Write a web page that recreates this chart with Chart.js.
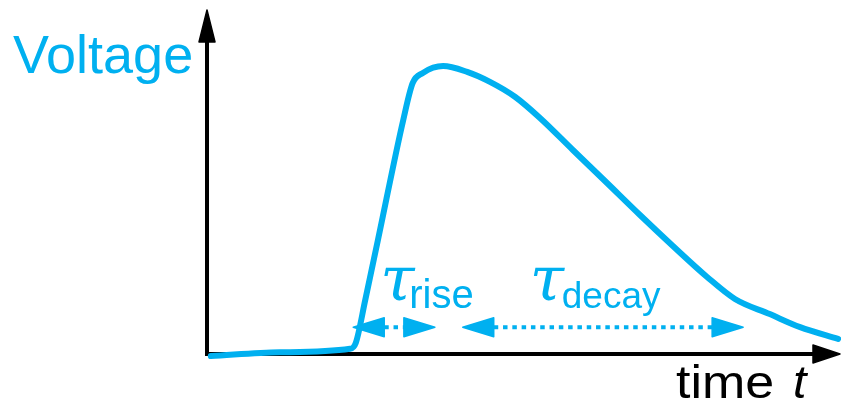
<!DOCTYPE html>
<html>
<head>
<meta charset="utf-8">
<script src="https://cdn.jsdelivr.net/npm/chart.js@4/dist/chart.umd.min.js"></script>
<style>
	html, body { margin: 0; padding: 0; background: #fff; }
	canvas { display: block; }
</style>
</head>
<body>
<canvas id="pulse" width="841" height="409"></canvas>
<script>
// time (arbitrary units, 0..100) and voltage (0..100)
var timeVals = [0.6, 11.5, 22.6, 23.5, 25.0, 27.0, 31.0, 32.5, 34.1, 37.3, 41.1, 44.7, 48.7, 52.6, 57.8, 63.2, 68.4, 73.6, 79.0, 83.4, 88.9, 93.7, 99.7];
var voltageVals = [-0.6, 0.5, 1.5, 3.2, 15.7, 33.1, 68.0, 78.8, 81.7, 83.7, 82.0, 79.1, 74.7, 68.6, 59.3, 49.7, 40.4, 31.4, 22.4, 16.0, 11.6, 7.8, 4.4];

// spans of the two time constants (start, end) and the level of their arrows
var riseSpan = [23.1, 36.0];
var decaySpan = [40.4, 84.7];
var spanLevel = 7.8;

var labels = { y: 'Voltage', x: 'time', xVar: 't', tau: '\u03C4', rise: 'rise', decay: 'decay' };

var BLUE = '#00B0F0';

var points = timeVals.map(function(t, i) {
	return { x: t, y: voltageVals[i] };
});

function arrowHead(ctx, tipX, tipY, dir, len, half) {
	// dir: +1 points right, -1 points left
	ctx.beginPath();
	ctx.moveTo(tipX, tipY);
	ctx.lineTo(tipX - dir * len, tipY - half);
	ctx.lineTo(tipX - dir * len, tipY + half);
	ctx.closePath();
	ctx.fill();
	ctx.stroke();
}

function spanArrow(ctx, x1, x2, y) {
	var len = 31, half = 9.5;
	ctx.save();
	ctx.fillStyle = BLUE;
	ctx.strokeStyle = BLUE;
	ctx.lineJoin = 'round';
	ctx.lineWidth = 1.5;
	arrowHead(ctx, x1, y, -1, len, half);
	arrowHead(ctx, x2, y, 1, len, half);
	ctx.lineWidth = 4;
	ctx.setLineDash([4.5, 4.8]);
	ctx.beginPath();
	ctx.moveTo(x1 + len, y);
	ctx.lineTo(x2 - len, y);
	ctx.stroke();
	ctx.restore();
}

// text stretched sideways a little, like the sketch's lettering
function wideText(ctx, str, x, y, sx) {
	ctx.save();
	ctx.translate(x, y);
	ctx.scale(sx, 1);
	ctx.fillText(str, 0, 0);
	ctx.restore();
}

var sketchAxes = {
	id: 'sketchAxes',
	beforeDatasetsDraw: function(chart) {
		var ctx = chart.ctx;
		var xs = chart.scales.x, ys = chart.scales.y;
		var x0 = xs.getPixelForValue(0);
		var y0 = ys.getPixelForValue(0);
		var xEnd = xs.getPixelForValue(xs.max);
		var yEnd = ys.getPixelForValue(ys.max);

		ctx.save();
		ctx.strokeStyle = '#000';
		ctx.fillStyle = '#000';
		ctx.lineWidth = 4;
		ctx.lineJoin = 'round';
		// y axis
		ctx.beginPath();
		ctx.moveTo(x0, y0 + 2);
		ctx.lineTo(x0, yEnd + 30);
		ctx.stroke();
		ctx.lineWidth = 1.5;
		ctx.beginPath();
		ctx.moveTo(x0, yEnd);
		ctx.lineTo(x0 - 8, yEnd + 32);
		ctx.lineTo(x0 + 8, yEnd + 32);
		ctx.closePath();
		ctx.fill();
		ctx.stroke();
		// x axis
		ctx.lineWidth = 4;
		ctx.beginPath();
		ctx.moveTo(x0 - 2, y0);
		ctx.lineTo(xEnd - 25, y0);
		ctx.stroke();
		ctx.lineWidth = 1.5;
		ctx.beginPath();
		ctx.moveTo(xEnd, y0);
		ctx.lineTo(xEnd - 27, y0 - 9);
		ctx.lineTo(xEnd - 27, y0 + 9);
		ctx.closePath();
		ctx.fill();
		ctx.stroke();

		// axis titles
		ctx.textBaseline = 'alphabetic';
		ctx.textAlign = 'left';
		ctx.fillStyle = BLUE;
		ctx.font = '54px "Liberation Sans", Arial, sans-serif';
		ctx.fillText(labels.y, 13, 73);
		ctx.fillStyle = '#000';
		ctx.font = '46px "Liberation Sans", Arial, sans-serif';
		wideText(ctx, labels.x, 676, 398, 1.13);
		ctx.font = 'italic 46px "Liberation Sans", Arial, sans-serif';
		wideText(ctx, labels.xVar, 793, 398, 1.05);
		ctx.restore();
	},
	afterDatasetsDraw: function(chart) {
		var ctx = chart.ctx;
		var xs = chart.scales.x, ys = chart.scales.y;
		var yA = ys.getPixelForValue(spanLevel);
		var r1 = xs.getPixelForValue(riseSpan[0]), r2 = xs.getPixelForValue(riseSpan[1]);
		var d1 = xs.getPixelForValue(decaySpan[0]), d2 = xs.getPixelForValue(decaySpan[1]);
		spanArrow(ctx, r1, r2, yA);
		spanArrow(ctx, d1, d2, yA);

		ctx.save();
		ctx.fillStyle = BLUE;
		ctx.textBaseline = 'alphabetic';
		ctx.textAlign = 'left';
		ctx.font = 'italic 62px "DejaVu Serif", serif';
		ctx.fillText(labels.tau, r1 + 27, yA - 27);
		ctx.fillText(labels.tau, d1 + 67, yA - 27);
		ctx.font = '40px "Liberation Sans", Arial, sans-serif';
		ctx.fillText(labels.rise, r1 + 56, yA - 19);
		ctx.font = '37px "Liberation Sans", Arial, sans-serif';
		ctx.fillText(labels.decay, d1 + 99, yA - 19);
		ctx.restore();
	}
};

var chart = new Chart(document.getElementById('pulse').getContext('2d'), {
	type: 'scatter',
	data: {
		datasets: [
			{
				data: points,
				showLine: true,
				borderColor: BLUE,
				borderWidth: 6,
				pointRadius: 0,
				cubicInterpolationMode: 'monotone',
				borderCapStyle: 'round',
				borderJoinStyle: 'round'
			}
		]
	},
	options: {
		responsive: false,
		animation: false,
		layout: { padding: { left: 207, right: 1, top: 10, bottom: 55 } },
		scales: {
			x: { type: 'linear', min: 0, max: 100, display: false },
			y: { type: 'linear', min: 0, max: 100, display: false }
		},
		plugins: {
			legend: { display: false },
			tooltip: { enabled: false }
		},
		clip: false
	},
	plugins: [sketchAxes]
});
</script>
</body>
</html>
